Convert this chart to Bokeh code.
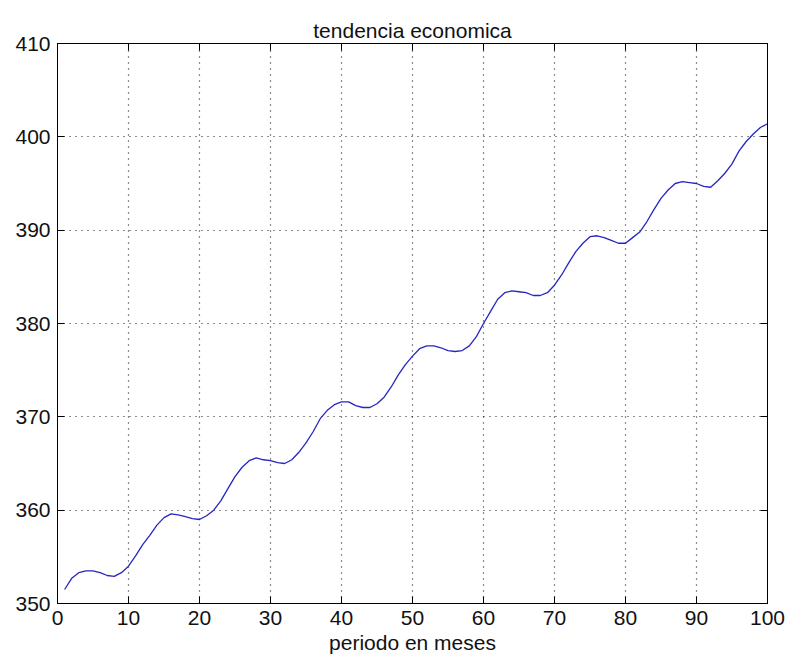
from bokeh.plotting import figure
from bokeh.models import Range1d, LinearAxis, FixedTicker, CustomJSTickFormatter
from bokeh.embed import file_html
from bokeh.resources import INLINE

# Monthly index and the trend series (12-month seasonal ripple on a rising trend)
meses = list(range(1, 101))
tendencia = [
    351.5, 352.7, 353.3, 353.5, 353.5, 353.3, 353.0, 352.9, 353.3, 354.0,
    355.1, 356.3, 357.3, 358.4, 359.2, 359.6, 359.5, 359.3, 359.1, 359.0,
    359.4, 360.0, 361.0, 362.3, 363.6, 364.6, 365.3, 365.6, 365.4, 365.3,
    365.1, 365.0, 365.4, 366.2, 367.2, 368.4, 369.8, 370.7, 371.3, 371.6,
    371.6, 371.2, 371.0, 371.0, 371.4, 372.1, 373.2, 374.5, 375.6, 376.5,
    377.3, 377.6, 377.6, 377.4, 377.1, 377.0, 377.1, 377.6, 378.6, 380.0,
    381.3, 382.6, 383.3, 383.5, 383.4, 383.3, 383.0, 383.0, 383.3, 384.1,
    385.2, 386.5, 387.7, 388.6, 389.3, 389.4, 389.2, 388.9, 388.6, 388.6,
    389.2, 389.8, 390.9, 392.2, 393.4, 394.3, 395.0, 395.2, 395.1, 395.0,
    394.7, 394.6, 395.3, 396.1, 397.1, 398.5, 399.5, 400.3, 401.0, 401.4,
]
x_ticks = list(range(0, 101, 10))
y_ticks = list(range(350, 411, 10))

FONT = "Liberation Sans"
TEXT_SIZE = "21px"

p = figure(
    width=786, height=660,
    output_backend="svg", toolbar_location=None,
    x_range=Range1d(0, 100), y_range=Range1d(350, 410),
    min_border_left=57, min_border_right=19,
    min_border_top=43, min_border_bottom=57,
    title="tendencia economica",
    background_fill_color="white", border_fill_color="white",
)

p.title.text_font = FONT
p.title.text_font_size = TEXT_SIZE
p.title.text_font_style = "normal"
p.title.text_color = "#111111"
p.title.align = "center"
p.title.vertical_align = "top"
p.title.standoff = 0

p.outline_line_color = "black"
p.outline_line_width = 1


def style_axis(ax, ticks):
    ax.ticker = FixedTicker(ticks=ticks)
    ax.axis_line_color = "black"
    ax.major_tick_line_color = "black"
    ax.major_tick_in = 7
    ax.major_tick_out = 0
    ax.minor_tick_in = 0
    ax.minor_tick_out = 0
    ax.major_label_text_font = FONT
    ax.major_label_text_font_size = TEXT_SIZE
    ax.major_label_text_color = "#111111"


style_axis(p.xaxis[0], x_ticks)
style_axis(p.yaxis[0], y_ticks)
p.xaxis.major_label_standoff = 7
p.yaxis.major_label_standoff = 7
p.xaxis.axis_label = "periodo en meses"
p.xaxis.axis_label_text_font = FONT
p.xaxis.axis_label_text_font_size = TEXT_SIZE
p.xaxis.axis_label_text_font_style = "normal"
p.xaxis.axis_label_text_color = "#111111"
p.xaxis.axis_label_standoff = 3

# Box ticks on the top and right edges, without labels
blank = CustomJSTickFormatter(code="return ''")
top = LinearAxis(formatter=blank)
style_axis(top, x_ticks)
top.major_label_standoff = 0
right = LinearAxis(formatter=blank)
style_axis(right, y_ticks)
right.major_label_standoff = 0
p.add_layout(top, "above")
p.add_layout(right, "right")

# Dotted grid
for g, ticks in ((p.xgrid[0], x_ticks), (p.ygrid[0], y_ticks)):
    g.ticker = FixedTicker(ticks=ticks)
    g.grid_line_color = "black"
    g.grid_line_dash = "1 5"
    g.grid_line_width = 1.2
    g.grid_line_alpha = 0.9

p.line(meses, tendencia, line_color="#2626c0", line_width=1.3)

open("out.html", "w").write(file_html(p, INLINE))
